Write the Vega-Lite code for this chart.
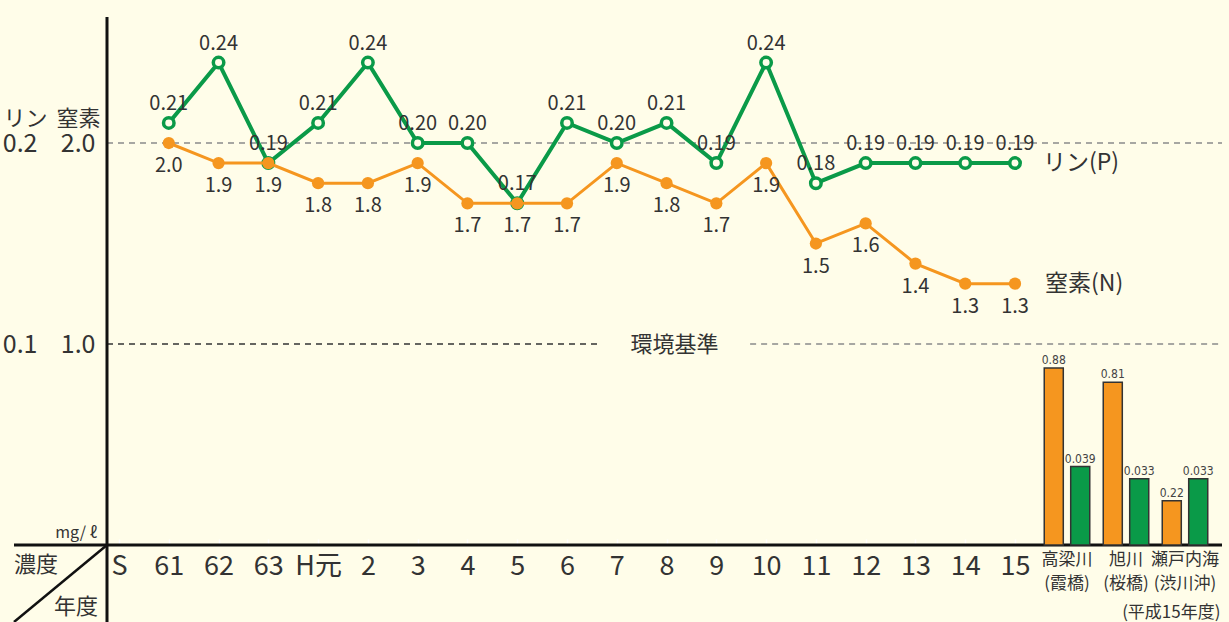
{
  "$schema": "https://vega.github.io/schema/vega-lite/v6.json",
  "width": 1208,
  "height": 605,
  "autosize": "none",
  "padding": {"left": 14, "top": 17, "right": 7, "bottom": 0},
  "background": "#fffde9",
  "config": {
    "view": {"stroke": null},
    "text": {"font": "Noto Sans CJK JP", "color": "#333333"},
    "axis": {"labelFont": "Noto Sans CJK JP", "titleFont": "Noto Sans CJK JP", "grid": false}
  },
  "datasets": {
    "years": [
      {"year": "61", "N": 2.0, "P": 0.21},
      {"year": "62", "N": 1.9, "P": 0.24},
      {"year": "63", "N": 1.9, "P": 0.19},
      {"year": "H元", "N": 1.8, "P": 0.21},
      {"year": "2", "N": 1.8, "P": 0.24},
      {"year": "3", "N": 1.9, "P": 0.20},
      {"year": "4", "N": 1.7, "P": 0.20},
      {"year": "5", "N": 1.7, "P": 0.17},
      {"year": "6", "N": 1.7, "P": 0.21},
      {"year": "7", "N": 1.9, "P": 0.20},
      {"year": "8", "N": 1.8, "P": 0.21},
      {"year": "9", "N": 1.7, "P": 0.19},
      {"year": "10", "N": 1.9, "P": 0.24},
      {"year": "11", "N": 1.5, "P": 0.18},
      {"year": "12", "N": 1.6, "P": 0.19},
      {"year": "13", "N": 1.4, "P": 0.19},
      {"year": "14", "N": 1.3, "P": 0.19},
      {"year": "15", "N": 1.3, "P": 0.19}
    ],
    "bars": [
      {"group": "高梁川\n(霞橋)", "item": "N", "value": 0.88},
      {"group": "高梁川\n(霞橋)", "item": "P", "value": 0.039},
      {"group": "旭川\n(桜橋)", "item": "N", "value": 0.81},
      {"group": "旭川\n(桜橋)", "item": "P", "value": 0.033},
      {"group": "瀬戸内海\n(渋川沖)", "item": "N", "value": 0.22},
      {"group": "瀬戸内海\n(渋川沖)", "item": "P", "value": 0.033}
    ]
  },
  "resolve": {"scale": {"x": "independent", "y": "independent"}, "axis": {"x": "independent", "y": "independent"}},
  "layer": [
    {
      "data": {"name": "years"},
      "resolve": {"scale": {"y": "independent"}, "axis": {"y": "independent"}},
      "layer": [
        {
          "encoding": {
            "x": {"field": "year", "type": "ordinal", "scale": {"type": "point", "domain": ["S","61","62","63","H元","2","3","4","5","6","7","8","9","10","11","12","13","14","15"], "range": [105, 1001], "padding": 0},
              "axis": {"orient": "bottom", "offset": -77, "domain": false, "ticks": true, "tickColor": "#ffffff", "tickSize": -6, "tickWidth": 1.5, "labelAngle": 0, "labelFontSize": 27, "labelColor": "#333333", "labelPadding": 14, "title": null}},
            "y": {"field": "P", "type": "quantitative", "scale": {"domain": [-0.03831, 0.26269], "nice": false, "zero": false},
              "axis": {"orient": "left", "offset": -23, "domain": false, "ticks": false, "values": [0.1, 0.2], "format": ".1f", "labelFontSize": 25, "labelColor": "#333333", "labelPadding": 0, "title": "リン", "titleAngle": 0, "titleX": -12, "titleY": 101, "titleAlign": "center", "titleBaseline": "middle", "titleFontSize": 22, "titleFontWeight": "normal", "titleColor": "#333333"}}
          },
          "layer": [
            {"data": {"values": [{"v": 0.2}]}, "mark": {"type": "rule", "color": "#8a8a8a", "strokeDash": [6, 5], "strokeWidth": 1.5, "xOffset": -12},
              "encoding": {"x": {"datum": "S", "type": "ordinal"}, "x2": {"value": "width"}, "y": {"field": "v", "type": "quantitative"}}},
            {"data": {"values": [{"v": 0.1}]}, "mark": {"type": "rule", "color": "#333333", "strokeDash": [6, 5], "strokeWidth": 1.5, "xOffset": -12, "x2Offset": -17},
              "encoding": {"x": {"datum": "S", "type": "ordinal"}, "x2": {"datum": "7"}, "y": {"field": "v", "type": "quantitative"}}},
            {"data": {"values": [{"v": 0.1}]}, "mark": {"type": "rule", "color": "#8a8a8a", "strokeDash": [6, 5], "strokeWidth": 1.5, "xOffset": -16},
              "encoding": {"x": {"datum": "10", "type": "ordinal"}, "x2": {"value": "width"}, "y": {"field": "v", "type": "quantitative"}}},
            {"data": {"values": [{"v": 0}]}, "mark": {"type": "rule", "color": "#111111", "strokeWidth": 3},
              "encoding": {"x": {"value": 0}, "x2": {"value": "width"}, "y": {"field": "v", "type": "quantitative"}}},
            {"data": {"values": [{"v": 0}]}, "mark": {"type": "rule", "color": "#111111", "strokeWidth": 3, "xOffset": -12},
              "encoding": {"x": {"datum": "S", "type": "ordinal"}, "y": {"value": 0}, "y2": {"value": "height"}}},
            {"data": {"values": [{"v": 0}]}, "mark": {"type": "rule", "color": "#111111", "strokeWidth": 2.5, "xOffset": -12},
              "encoding": {"x": {"datum": "S", "type": "ordinal"}, "x2": {"value": 0}, "y": {"field": "v", "type": "quantitative"}, "y2": {"value": "height"}}},
            {"data": {"values": [{"v": 0, "label": "mg/ ℓ"}]}, "mark": {"type": "text", "align": "right", "baseline": "middle", "dx": -22, "dy": -12, "fontSize": 16},
              "encoding": {"x": {"datum": "S", "type": "ordinal"}, "y": {"field": "v", "type": "quantitative"}, "text": {"field": "label"}}},
            {"data": {"values": [{"v": 0, "label": "濃度"}]}, "mark": {"type": "text", "align": "left", "baseline": "middle", "dx": -105, "dy": 20, "fontSize": 22},
              "encoding": {"x": {"datum": "S", "type": "ordinal"}, "y": {"field": "v", "type": "quantitative"}, "text": {"field": "label"}}},
            {"data": {"values": [{"v": 0, "label": "年度"}]}, "mark": {"type": "text", "align": "right", "baseline": "middle", "dx": -21, "dy": 62, "fontSize": 22},
              "encoding": {"x": {"datum": "S", "type": "ordinal"}, "y": {"field": "v", "type": "quantitative"}, "text": {"field": "label"}}},
            {"data": {"values": [{"v": 0.1, "label": "環境基準"}]}, "mark": {"type": "text", "align": "center", "baseline": "middle", "dx": 8, "dy": 1, "fontSize": 22},
              "encoding": {"x": {"datum": "8", "type": "ordinal"}, "y": {"field": "v", "type": "quantitative"}, "text": {"field": "label"}}},
            {"mark": {"type": "line", "color": "#0a9a48", "strokeWidth": 4}, "encoding": {"order": {"value": null}}},
            {"mark": {"type": "point", "filled": true, "fill": "#fffde9", "stroke": "#0a9a48", "strokeWidth": 3.5, "size": 110, "opacity": 1}},
            {"mark": {"type": "text", "dy": -19, "fontSize": 20, "baseline": "middle"}, "encoding": {"text": {"field": "P", "format": ".2f"}}},
            {"transform": [{"filter": "datum.year == '15'"}], "mark": {"type": "text", "align": "left", "baseline": "middle", "dx": 28, "fontSize": 23, "text": "リン(P)"}}
          ]
        },
        {
          "encoding": {
            "x": {"field": "year", "type": "ordinal", "scale": {"type": "point", "domain": ["S","61","62","63","H元","2","3","4","5","6","7","8","9","10","11","12","13","14","15"], "range": [105, 1001], "padding": 0}},
            "y": {"field": "N", "type": "quantitative", "scale": {"domain": [-0.3831, 2.6269], "nice": false, "zero": false},
              "axis": {"orient": "left", "offset": -93, "domain": false, "ticks": false, "values": [1, 2], "format": ".1f", "labelFontSize": 25, "labelColor": "#333333", "labelPadding": 12, "title": "窒素", "titleAngle": 0, "titleX": -29, "titleY": 101, "titleAlign": "center", "titleBaseline": "middle", "titleFontSize": 22, "titleFontWeight": "normal", "titleColor": "#333333"}}
          },
          "layer": [
            {"mark": {"type": "line", "color": "#f5961f", "strokeWidth": 3}, "encoding": {"order": {"value": null}}},
            {"mark": {"type": "point", "filled": true, "color": "#f5961f", "size": 150, "opacity": 1}},
            {"mark": {"type": "text", "dy": 23, "fontSize": 20, "baseline": "middle"}, "encoding": {"text": {"field": "N", "format": ".1f"}}},
            {"transform": [{"filter": "datum.year == '15'"}], "mark": {"type": "text", "align": "left", "baseline": "middle", "dx": 30, "fontSize": 23, "text": "窒素(N)"}}
          ]
        }
      ]
    },
    {
      "data": {"name": "bars"},
      "resolve": {"scale": {"y": "independent"}, "axis": {"y": "independent"}},
      "encoding": {
        "x": {"field": "group", "type": "nominal", "sort": null,
          "scale": {"type": "band", "domain": ["高梁川\n(霞橋)", "旭川\n(桜橋)", "瀬戸内海\n(渋川沖)"], "range": [1023.5, 1200.5], "paddingInner": 0, "paddingOuter": 0},
          "axis": {"orient": "bottom", "offset": -77, "domain": false, "ticks": false, "labelAngle": 0, "labelFontSize": 17, "labelLineHeight": 24, "labelPadding": 6, "labelColor": "#333333", "labelExpr": "split(datum.label, '\\n')", "title": "(平成15年度)", "titleFontSize": 17, "titleFontWeight": "normal", "titleColor": "#333333", "titleAlign": "right", "titleBaseline": "middle", "titleX": 1206, "titleY": 67}},
        "xOffset": {"field": "item", "type": "nominal", "scale": {"domain": ["N", "P"], "paddingInner": 0.28, "paddingOuter": 0.255}}
      },
      "layer": [
        {
          "transform": [{"filter": "datum.item == 'N'"}],
          "encoding": {"y": {"field": "value", "type": "quantitative", "scale": {"domain": [-0.3831, 2.6269], "nice": false, "zero": false}, "axis": null}},
          "layer": [
            {"mark": {"type": "bar", "fill": "#f5961f", "stroke": "#333333", "strokeWidth": 1.5}, "encoding": {"y2": {"datum": 0}}},
            {"mark": {"type": "text", "font": "DejaVu Sans Condensed, Liberation Sans Narrow, Noto Sans CJK JP, sans-serif", "fontSize": 12, "baseline": "alphabetic", "dy": -4, "color": "#444444"}, "encoding": {"text": {"field": "value", "format": ".2f"}}}
          ]
        },
        {
          "transform": [{"filter": "datum.item == 'P'"}],
          "encoding": {"y": {"field": "value", "type": "quantitative", "scale": {"domain": [-0.03831, 0.26269], "nice": false, "zero": false}, "axis": null}},
          "layer": [
            {"mark": {"type": "bar", "fill": "#0a9a48", "stroke": "#333333", "strokeWidth": 1.5}, "encoding": {"y2": {"datum": 0}}},
            {"mark": {"type": "text", "font": "DejaVu Sans Condensed, Liberation Sans Narrow, Noto Sans CJK JP, sans-serif", "fontSize": 12, "baseline": "alphabetic", "dy": -4, "color": "#444444"}, "encoding": {"text": {"field": "value", "format": ".3f"}}}
          ]
        }
      ]
    }
  ]
}
